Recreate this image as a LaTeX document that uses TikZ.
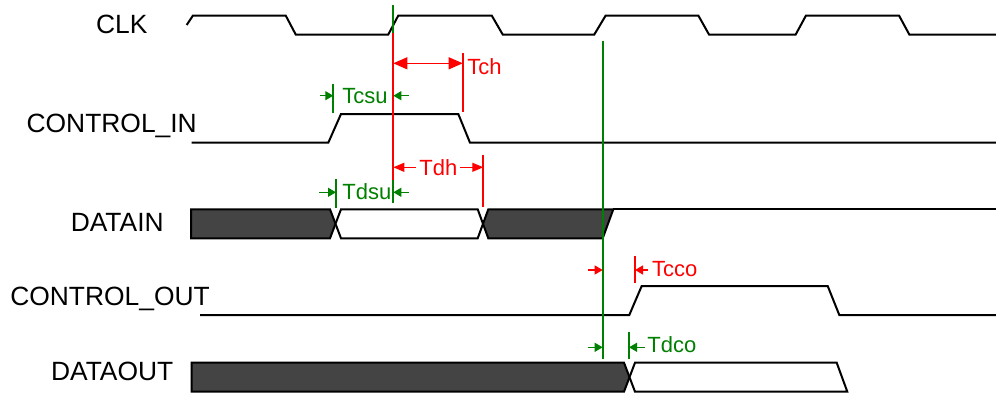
\documentclass[tikz,border=0pt]{standalone}
\usepackage{fontspec}
\setmainfont{Liberation Sans}
\usetikzlibrary{arrows.meta}
\definecolor{busgray}{HTML}{444444}
\definecolor{tgreen}{HTML}{008000}
\begin{document}
\begin{tikzpicture}[
    x=0.5pt, y=-0.5pt,
    every node/.style={inner sep=0pt},
    signal/.style={draw, line width=1pt, line join=miter},
    bus/.style={signal, fill=busgray},
    busopen/.style={signal, fill=white},
    signame/.style={font=\fontsize{13.2}{15}\selectfont, anchor=base},
    tlabel/.style={font=\fontsize{11}{13}\selectfont, anchor=base west},
    redline/.style={draw=red, line width=0.9pt},
    greenline/.style={draw=tgreen, line width=0.9pt},
    smalltip/.style={-{Triangle[length=4pt,width=4.5pt]}, line width=0.6pt},
    bigtips/.style={{Triangle[length=7pt,width=6pt]}-{Triangle[length=7pt,width=6pt]}, line width=0.6pt},
    midtips/.style={{Triangle[length=5.5pt,width=4.5pt]}-{Triangle[length=5.5pt,width=4.5pt]}, line width=0.6pt}
  ]
  \useasboundingbox (0,0) rectangle (996,396);

  % signal names
  \node[signame] (nclk)  at (121.7,33.3)  {CLK};
  \node[signame] (nci)   at (111.7,132.7) {CONTROL\_IN};
  \node[signame] (ndi)   at (117.2,231)   {DATAIN};
  \node[signame] (nco)   at (110,305)     {CONTROL\_OUT};
  \node[signame] (ndo)   at (112.2,380)   {DATAOUT};

  % waveforms
  \draw[signal] (186.7,25) -- (193,15.5) -- (285.7,15.5) -- (295.7,34.5) -- (388.3,34.5)
    -- (398.3,15.5) -- (491.7,15.5) -- (502.7,34.5) -- (594.3,34.5) -- (605.7,15.5)
    -- (698.3,15.5) -- (709,34.5) -- (795.7,34.5) -- (806,15.5) -- (899,15.5)
    -- (909.3,34.5) -- (996,34.5);
  \draw[signal] (191.7,142.7) -- (328.3,142.7) -- (341,114) -- (458.3,114)
    -- (470,142.7) -- (996,142.7);
  \draw[bus] (191,209.3) -- (330,209.3) -- (335.5,223.8) -- (330,238.3) -- (191,238.3) -- cycle;
  \draw[busopen] (341,209.3) -- (477.7,209.3) -- (483,223.8) -- (477.7,238.3)
    -- (341,238.3) -- (335.5,223.8) -- cycle;
  \draw[bus] (488.3,209.3) -- (613.3,209.3) -- (602.7,238.3) -- (488.3,238.3) -- (483,223.8) -- cycle;
  \draw[signal] (613.3,209.3) -- (996,209.3);
  \draw[signal] (200,315) -- (629.3,315) -- (641.7,286) -- (827.7,286)
    -- (839.3,315) -- (996,315);
  \draw[bus] (191.7,362.7) -- (624,362.7) -- (629.5,377.2) -- (624,391.7) -- (191.7,391.7) -- cycle;
  \draw[busopen] (635,362.7) -- (836.7,362.7) -- (847.3,391.7) -- (635,391.7) -- (629.5,377.2) -- cycle;

  % clock edges
  \coordinate (clkT) at (393.3,5.3);
  \coordinate (clkM) at (393.3,33.3);
  \coordinate (clkD) at (393.3,180);
  \coordinate (clkB) at (393.3,203);
  \coordinate (outT) at (602.7,40.7);
  \coordinate (outB) at (602.7,359.3);
  \draw[greenline] (clkT) -- (clkM);
  \draw[redline] (clkM) -- (clkD);
  \draw[greenline] (clkD) -- (clkB);
  \draw[greenline] (outT) -- (outB);

  % Tch
  \coordinate (tchT) at (462.7,53);
  \coordinate (tchB) at (462.7,111.7);
  \coordinate (tchA) at (393.3,63.3);
  \coordinate (tchZ) at (462.7,63.3);
  \draw[redline] (tchT) -- (tchB);
  \draw[red, bigtips] (tchA) -- (tchZ);
  \node[tlabel, text=red] (tch) at (467,74) {Tch};

  % Tcsu
  \coordinate (tcsuT) at (333.3,84);
  \coordinate (tcsuB) at (333.3,112.7);
  \coordinate (tcsuA) at (320,95.7);
  \coordinate (tcsuZ) at (333.3,95.7);
  \coordinate (tcsuE) at (409.3,95.7);
  \coordinate (tcsuF) at (393.3,95.7);
  \draw[greenline] (tcsuT) -- (tcsuB);
  \draw[tgreen, smalltip] (tcsuA) -- (tcsuZ);
  \draw[tgreen, smalltip] (tcsuE) -- (tcsuF);
  \node[tlabel, text=tgreen] (tcsu) at (342,103.3) {Tcsu};

  % Tdh
  \coordinate (tdhT) at (483.3,155);
  \coordinate (tdhB) at (483.3,206.7);
  \coordinate (tdhA) at (393.3,167.3);
  \coordinate (tdhZ) at (483.3,167.3);
  \draw[redline] (tdhT) -- (tdhB);
  \draw[red, midtips] (tdhA) -- node[fill=white, inner xsep=1.5pt, inner ysep=1pt,
    font=\fontsize{11}{13}\selectfont, text=red] (tdh) {Tdh} (tdhZ);

  % Tdsu
  \coordinate (tdsuT) at (336,179);
  \coordinate (tdsuB) at (336,208);
  \coordinate (tdsuA) at (319,192.3);
  \coordinate (tdsuZ) at (336,192.3);
  \coordinate (tdsuE) at (409,192.3);
  \coordinate (tdsuF) at (393.3,192.3);
  \draw[greenline] (tdsuT) -- (tdsuB);
  \draw[tgreen, smalltip] (tdsuA) -- (tdsuZ);
  \draw[tgreen, smalltip] (tdsuE) -- (tdsuF);
  \node[tlabel, text=tgreen] (tdsu) at (342,199.3) {Tdsu};

  % Tcco
  \coordinate (tccoT) at (635,255.7);
  \coordinate (tccoB) at (635,283.3);
  \coordinate (tccoA) at (588,270);
  \coordinate (tccoZ) at (602.7,270);
  \coordinate (tccoE) at (648,270);
  \coordinate (tccoF) at (635,270);
  \draw[redline] (tccoT) -- (tccoB);
  \draw[red, smalltip] (tccoA) -- (tccoZ);
  \draw[red, smalltip] (tccoE) -- (tccoF);
  \node[tlabel, text=red] (tcco) at (651.7,276) {Tcco};

  % Tdco
  \coordinate (tdcoT) at (629,332.3);
  \coordinate (tdcoB) at (629,359.3);
  \coordinate (tdcoA) at (588,347.3);
  \coordinate (tdcoZ) at (602.7,347.3);
  \coordinate (tdcoE) at (645,347.3);
  \coordinate (tdcoF) at (629,347.3);
  \draw[greenline] (tdcoT) -- (tdcoB);
  \draw[tgreen, smalltip] (tdcoA) -- (tdcoZ);
  \draw[tgreen, smalltip] (tdcoE) -- (tdcoF);
  \node[tlabel, text=tgreen] (tdco) at (647,352.7) {Tdco};
\end{tikzpicture}
\end{document}
